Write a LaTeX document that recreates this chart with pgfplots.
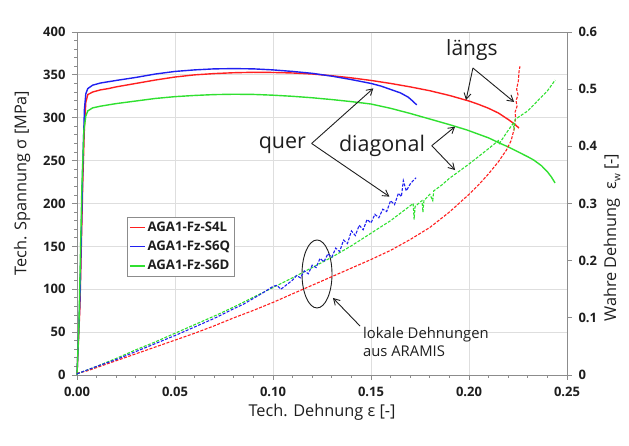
\documentclass[border=0pt]{standalone}
\usepackage{fontspec}
\setmainfont{Open Sans}
\usepackage{pgfplots}
\pgfplotsset{compat=1.18}
\usetikzlibrary{arrows.meta}
\definecolor{cred}{HTML}{FF1F1F}
\definecolor{cblue}{HTML}{2020F0}
\definecolor{cgreen}{HTML}{30E030}
\definecolor{gridc}{HTML}{DEDEDE}
\definecolor{axc}{HTML}{8C8C8C}
\definecolor{txt}{HTML}{1E1E1E}

\begin{document}
\begin{tikzpicture}[x=1pt,y=1pt]
\path (0pt,0pt) rectangle (629pt,446pt);
\begin{axis}[
  at={(77pt,71pt)}, anchor=south west, scale only axis,
  width=490pt, height=343pt,
  xmin=0, xmax=0.25, ymin=0, ymax=400,
  xtick={0,0.05,...,0.25}, ytick={0,50,...,400},
  minor x tick num=4, minor y tick num=4,
  xmajorgrids, ymajorgrids,
  major grid style={gridc, line width=0.8pt},
  axis line style={axc, line width=0.9pt},
  tick style={axc, line width=0.8pt},
  tick align=outside, major tick length=5pt, minor tick length=3pt,
  xtick pos=bottom, ytick pos=left,
  /pgf/number format/assume math mode=true,
  ticklabel style={font=\bfseries\fontsize{13}{14}\selectfont, text=txt},
  xticklabel style={/pgf/number format/fixed, /pgf/number format/zerofill, /pgf/number format/precision=2, yshift=-4pt},
  yticklabel style={xshift=-3pt},
  xlabel={Tech. Dehnung ε [-]},
  ylabel={Tech. Spannung σ [MPa]},
  label style={font=\fontsize{16.3}{18}\selectfont, text=txt},
  xlabel style={at={(axis description cs:0.5,-0.108)}, anchor=center},
  ylabel style={at={(axis description cs:-0.112,0.56)}, anchor=center},
  legend style={at={(0.102,0.461)}, anchor=north west, draw=axc, line width=0.8pt,
    font=\bfseries\fontsize{13.2}{15}\selectfont, text=txt, inner xsep=2pt, inner ysep=3pt,
    row sep=4pt, cells={anchor=west}},
  legend image code/.code={\draw[#1, line width=1.2pt] (0pt,0pt) -- (15pt,0pt);},
  clip=false,
]
\addplot[cred, line width=1.4pt] coordinates {
(0,0) (0.0015,80) (0.003,230) (0.0038,290) (0.0045,318) (0.0055,327) (0.008,330)
(0.012,332.5) (0.016,334) (0.02,336) (0.03,340) (0.04,344) (0.05,347.5) (0.06,350)
(0.07,351.5) (0.08,352.5) (0.09,353) (0.10,352.8) (0.11,352.2) (0.12,351) (0.13,349)
(0.14,346.5) (0.15,343.5) (0.16,340) (0.17,336) (0.18,331.5) (0.19,326) (0.20,319.5)
(0.205,315.5) (0.21,311) (0.215,305.5) (0.22,298) (0.223,293) (0.2255,288)};
\addlegendentry{AGA1-Fz-S4L}
\addplot[cblue, line width=1.4pt] coordinates {
(0,0) (0.0015,90) (0.003,250) (0.0038,310) (0.0045,328) (0.0055,334) (0.008,338)
(0.012,340.5) (0.016,342) (0.02,343.5) (0.03,347) (0.04,351) (0.05,354) (0.06,355.8)
(0.07,357) (0.08,357.3) (0.09,357) (0.10,355.8) (0.11,354) (0.12,351.8) (0.13,348.5)
(0.14,344.5) (0.15,340) (0.155,337) (0.16,333) (0.165,329) (0.169,324) (0.1715,319) (0.1733,315)};
\addlegendentry{AGA1-Fz-S6Q}
\addplot[cgreen, line width=1.4pt] coordinates {
(0,0) (0.001,60) (0.0025,220) (0.0035,285) (0.0045,302) (0.0055,308) (0.008,311.5)
(0.012,313.5) (0.016,315) (0.02,316.5) (0.03,319.5) (0.04,322.5) (0.05,324.6) (0.06,326)
(0.07,327) (0.08,327.4) (0.09,327.2) (0.10,326.3) (0.11,325) (0.12,323.3) (0.13,321.2)
(0.14,318.8) (0.15,316) (0.16,311) (0.17,305) (0.18,298.5) (0.19,292) (0.199,285.7)
(0.21,276.5) (0.216,270) (0.22,266) (0.23,254.5) (0.233,250.7) (0.237,244) (0.24,237)
(0.242,231) (0.2439,224)};
\addlegendentry{AGA1-Fz-S6D}
% annotations
\node[font=\fontsize{21}{22}\selectfont, text=txt] at (axis cs:0.2015,379) {längs};
\draw[txt, line width=0.9pt, -{Straight Barb[length=6pt,width=7pt]}] (axis cs:0.202,358) -- (axis cs:0.1985,320.7);
\draw[txt, line width=0.9pt, -{Straight Barb[length=6pt,width=7pt]}] (axis cs:0.202,358) -- (axis cs:0.223,318.4);
\node[font=\fontsize{21.5}{22}\selectfont, text=txt] at (axis cs:0.1556,267) {diagonal};
\draw[txt, line width=0.9pt, -{Straight Barb[length=6pt,width=7pt]}] (axis cs:0.181,267.4) -- (axis cs:0.1929,289.6);
\draw[txt, line width=0.9pt, -{Straight Barb[length=6pt,width=7pt]}] (axis cs:0.181,267.4) -- (axis cs:0.1929,239);
\node[font=\fontsize{21.5}{22}\selectfont, text=txt] at (axis cs:0.1048,268) {quer};
\draw[txt, line width=0.9pt, -{Straight Barb[length=6pt,width=7pt]}] (axis cs:0.1197,270) -- (axis cs:0.1512,334.3);
\draw[txt, line width=0.9pt, -{Straight Barb[length=6pt,width=7pt]}] (axis cs:0.1197,270) -- (axis cs:0.1594,208);
\draw[txt, line width=0.9pt] (axis cs:0.12245,117.8) ellipse [x radius=15pt, y radius=34pt];
\draw[txt, line width=0.9pt, -{Straight Barb[length=6pt,width=7pt]}] (axis cs:0.1444,57.1) -- (axis cs:0.1306,89.8);
\node[font=\fontsize{14.8}{18}\selectfont, text=txt, align=left, anchor=west, inner sep=0pt] at (axis cs:0.1459,38.5) {lokale Dehnungen\\aus ARAMIS};
\end{axis}
\begin{axis}[
  at={(77pt,71pt)}, anchor=south west, scale only axis,
  width=490pt, height=343pt,
  xmin=0, xmax=0.25, ymin=0, ymax=0.6,
  axis x line=none, axis y line*=right,
  ytick={0,0.1,...,0.6},
  axis line style={axc, line width=0.9pt},
  tick style={axc, line width=0.8pt},
  tick align=outside, major tick length=5pt,
  /pgf/number format/assume math mode=true,
  yticklabel style={font=\bfseries\fontsize{13}{14}\selectfont, text=txt,
    /pgf/number format/fixed, /pgf/number format/precision=1, xshift=3pt},
  ylabel={Wahre Dehnung\ \ ε\raisebox{-0.5ex}{\fontsize{10}{10}\selectfont w} [-]},
  ylabel style={font=\fontsize{16.3}{18}\selectfont, text=txt, at={(axis description cs:1.092,0.40)}, anchor=center},
  clip=false,
]
\addplot[cred, line width=1.1pt, dash pattern=on 3pt off 1.5pt] coordinates {
(0,0.003) (0.005,0.007) (0.01,0.013) (0.02,0.025) (0.03,0.037) (0.04,0.049) (0.05,0.061)
(0.06,0.073) (0.07,0.086) (0.08,0.100) (0.09,0.113) (0.10,0.127) (0.11,0.142) (0.12,0.157)
(0.13,0.172) (0.14,0.187) (0.15,0.202) (0.16,0.218) (0.17,0.237) (0.18,0.258) (0.19,0.285)
(0.20,0.316) (0.205,0.333) (0.21,0.352) (0.215,0.373) (0.219,0.393) (0.2215,0.41) (0.223,0.43)
(0.2238,0.45) (0.2235,0.46) (0.2245,0.47) (0.224,0.48) (0.225,0.49) (0.2243,0.50)
(0.2252,0.515) (0.2255,0.53) (0.226,0.54)};
\addplot[cgreen, line width=1.1pt, dash pattern=on 3pt off 1.5pt] coordinates {
(0,0.002) (0.01,0.015) (0.02,0.029) (0.03,0.044) (0.04,0.058) (0.05,0.073) (0.06,0.088)
(0.07,0.103) (0.08,0.119) (0.09,0.136) (0.10,0.153) (0.11,0.170) (0.12,0.188) (0.13,0.206)
(0.14,0.226) (0.15,0.248) (0.16,0.270) (0.165,0.283) (0.170,0.296) (0.1715,0.300)
(0.172,0.272) (0.1725,0.295) (0.176,0.305) (0.1765,0.285) (0.177,0.305) (0.180,0.316)
(0.1815,0.305) (0.182,0.322) (0.186,0.332) (0.19,0.344) (0.20,0.369) (0.21,0.396)
(0.215,0.41) (0.2155,0.405) (0.22,0.428) (0.2225,0.44) (0.223,0.432) (0.2235,0.447)
(0.23,0.462) (0.24,0.497) (0.244,0.516)};
\addplot[cblue, line width=1.1pt, dash pattern=on 3pt off 1.5pt] coordinates {
(0,0.002) (0.01,0.015) (0.02,0.027) (0.03,0.041) (0.04,0.055) (0.05,0.069) (0.06,0.084)
(0.07,0.099) (0.08,0.116) (0.085,0.124) (0.09,0.134) (0.095,0.144) (0.10,0.155)
(0.102,0.157) (0.104,0.150) (0.107,0.158) (0.110,0.166) (0.112,0.174) (0.114,0.170)
(0.116,0.182) (0.118,0.177) (0.120,0.192) (0.122,0.188) (0.124,0.204) (0.126,0.198)
(0.128,0.212) (0.130,0.206) (0.132,0.222) (0.134,0.216) (0.136,0.236) (0.138,0.230)
(0.140,0.252) (0.142,0.244) (0.144,0.262) (0.146,0.254) (0.148,0.272) (0.150,0.266)
(0.152,0.281) (0.154,0.275) (0.156,0.290) (0.158,0.286) (0.160,0.305) (0.162,0.298)
(0.164,0.318) (0.1655,0.312) (0.1665,0.340) (0.168,0.322) (0.170,0.334) (0.1715,0.340) (0.173,0.345)};
\end{axis}
\end{tikzpicture}
\end{document}
